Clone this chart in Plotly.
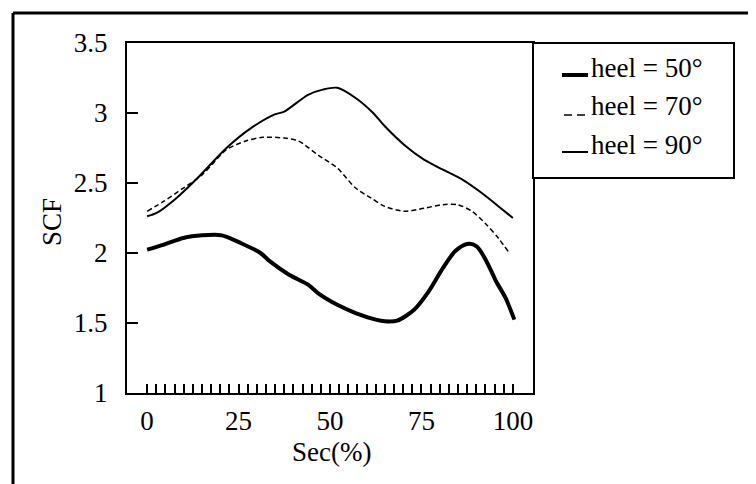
import plotly.graph_objects as go

# ---- data ----
x50 = [0, 4.6, 9.9, 15.1, 20.4, 25.7, 31.0, 33.6, 38.8, 44.0, 46.7, 52.0, 57.0, 62.5, 65.0, 68.4, 73.0, 77.0, 80.9, 84.2, 87.5, 90.1, 92.8, 95.4, 98.0, 100.4]
y50 = [2.024, 2.06, 2.107, 2.126, 2.126, 2.07, 2.0, 1.94, 1.845, 1.774, 1.714, 1.63, 1.571, 1.524, 1.512, 1.517, 1.595, 1.726, 1.893, 2.012, 2.064, 2.048, 1.94, 1.798, 1.679, 1.524]

x70 = [0, 4.6, 9.9, 15.1, 21.7, 27.0, 31.6, 37.5, 41.4, 46.7, 52.0, 57.0, 61.2, 65.0, 70.4, 75.7, 80.9, 84.9, 88.8, 92.8, 96.0, 98.7]
y70 = [2.298, 2.37, 2.464, 2.56, 2.738, 2.80, 2.826, 2.821, 2.80, 2.70, 2.607, 2.464, 2.393, 2.333, 2.298, 2.32, 2.345, 2.345, 2.298, 2.202, 2.107, 2.012]

x90 = [0, 2.6, 7.9, 13.8, 21.7, 28.3, 34.9, 37.5, 44.0, 48.0, 52.0, 57.0, 61.8, 65.0, 70.4, 75.7, 80.9, 86.2, 91.4, 96.7, 100]
y90 = [2.262, 2.286, 2.39, 2.536, 2.75, 2.89, 2.99, 3.01, 3.13, 3.167, 3.18, 3.107, 3.0, 2.905, 2.77, 2.667, 2.595, 2.524, 2.43, 2.32, 2.25]

series_names = ["heel = 50°", "heel = 70°", "heel = 90°"]
x_label_vals = [0, 25, 50, 75, 100]
x_minor_step = 2.5
y_tick_vals = [1, 1.5, 2, 2.5, 3, 3.5]
y_tick_text = ["1", "1.5", "2", "2.5", "3", "3.5"]

FONT = "'Liberation Serif', 'Times New Roman', Times, 'DejaVu Serif', serif"
FS = 27
FS_LEG = 27

# x ticks: minor every 2.5, labels only at multiples of 25
x_tick_vals = [i * x_minor_step for i in range(int(100 / x_minor_step) + 1)]
x_tick_text = [(str(int(v)) if v in x_label_vals else "") for v in x_tick_vals]

fig = go.Figure()
fig.add_trace(go.Scatter(x=x50, y=y50, mode="lines", name=series_names[0],
                         line=dict(color="black", width=4, shape="spline", smoothing=0.8), showlegend=False))
fig.add_trace(go.Scatter(x=x70, y=y70, mode="lines", name=series_names[1],
                         line=dict(color="black", width=1.5, dash="5px,3px", shape="spline", smoothing=0.8), showlegend=False))
fig.add_trace(go.Scatter(x=x90, y=y90, mode="lines", name=series_names[2],
                         line=dict(color="black", width=2, shape="spline", smoothing=0.8), showlegend=False))

OFF = 8  # page body margin
W, H = 756 - OFF, 484 - OFF
L, T = 127 - OFF, 43 - OFF
R = 756 - 533
B = 484 - 393
pw, ph = W - L - R, H - T - B


def px(xp):
    return (xp - OFF - L) / pw


def py(yp):
    return (H - B - (yp - OFF)) / ph


shapes = []
# outer frame (only top & left visible in the crop)
shapes.append(dict(type="line", xref="paper", yref="paper", x0=px(13), x1=px(800), y0=py(13), y1=py(13),
                   line=dict(color="black", width=3)))
shapes.append(dict(type="line", xref="paper", yref="paper", x0=px(13), x1=px(13), y0=py(13), y1=py(520),
                   line=dict(color="black", width=3)))
# legend box
shapes.append(dict(type="rect", xref="paper", yref="paper", x0=px(533), x1=px(734), y0=py(178), y1=py(43),
                   line=dict(color="black", width=2), fillcolor="white"))
# legend samples
leg_line_y = [75, 115, 152]
leg_text_y = [68, 106, 145]
leg_x0 = [562, 564, 562]
leg_styles = [dict(width=4, dash="solid"), dict(width=1.5, dash="8px,5px"), dict(width=2, dash="solid")]
annotations = []
for i in range(3):
    shapes.append(dict(type="line", xref="paper", yref="paper", x0=px(leg_x0[i]), x1=px(588),
                       y0=py(leg_line_y[i]), y1=py(leg_line_y[i]),
                       line=dict(color="black", **leg_styles[i])))
    annotations.append(dict(xref="paper", yref="paper", x=px(589), y=py(leg_text_y[i]), xanchor="left",
                            yanchor="middle", text=series_names[i], showarrow=False,
                            font=dict(family=FONT, size=FS_LEG, color="black")))

# axis titles
annotations.append(dict(xref="paper", yref="paper", x=px(331), y=py(452), text="Sec(%)", showarrow=False,
                        xanchor="center", yanchor="middle", font=dict(family=FONT, size=FS, color="black")))
annotations.append(dict(xref="paper", yref="paper", x=px(52), y=py(222), text="SCF", showarrow=False,
                        textangle=-90, xanchor="center", yanchor="middle",
                        font=dict(family=FONT, size=FS, color="black")))

fig.update_layout(
    width=W, height=H,
    margin=dict(l=L, r=R, t=T, b=B),
    paper_bgcolor="white", plot_bgcolor="white",
    font=dict(family=FONT, size=FS, color="black"),
    shapes=shapes, annotations=annotations,
    showlegend=False,
)
fig.update_xaxes(range=[-5.5, 105.5], showgrid=False, zeroline=False,
                 showline=True, linecolor="black", linewidth=2, mirror=True,
                 ticks="inside", ticklen=9, tickwidth=1.5, tickcolor="black",
                 tickvals=x_tick_vals, ticktext=x_tick_text, ticklabelstandoff=3,
                 tickfont=dict(family=FONT, size=FS, color="black"))
fig.update_yaxes(range=[1, 3.5], showgrid=False, zeroline=False,
                 showline=True, linecolor="black", linewidth=2, mirror=True,
                 ticks="inside", ticklen=11, tickwidth=1.5, tickcolor="black",
                 tickvals=y_tick_vals, ticktext=y_tick_text, ticklabelstandoff=12,
                 tickfont=dict(family=FONT, size=FS, color="black"))

fig.write_html("out.html")
